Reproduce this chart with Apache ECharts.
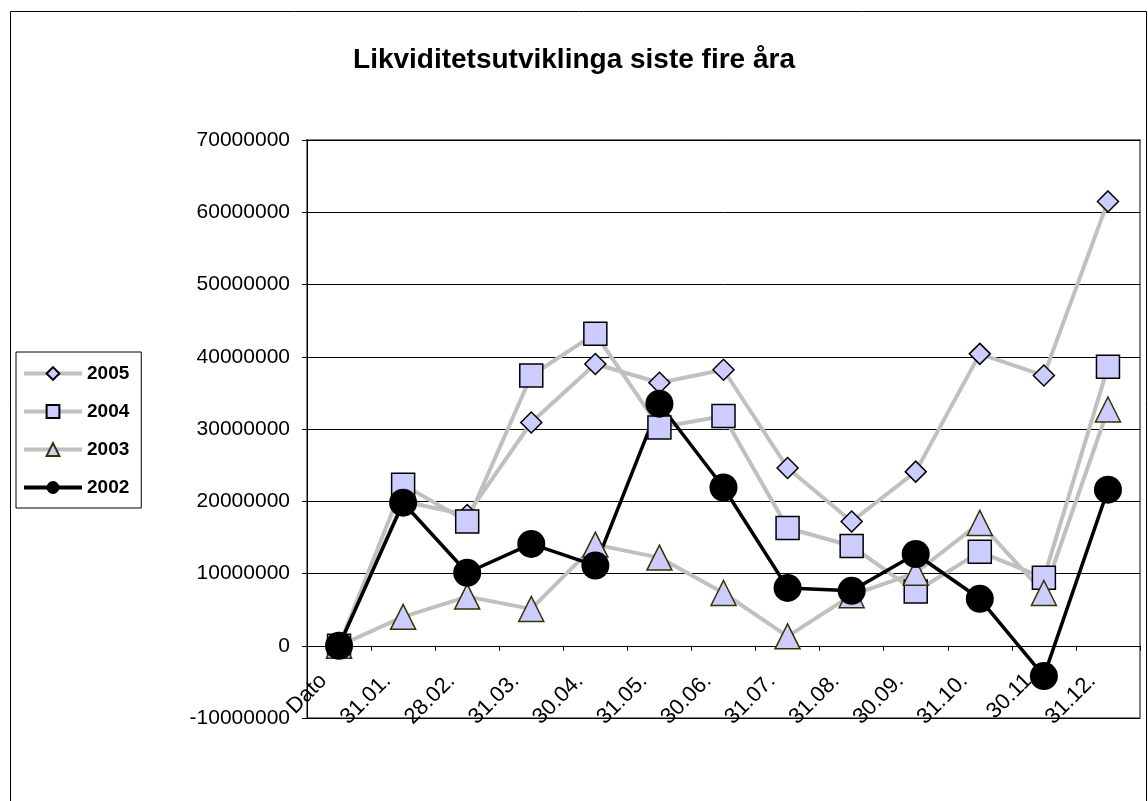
<!DOCTYPE html>
<html>
<head>
<meta charset="utf-8">
<script src="https://cdn.jsdelivr.net/npm/echarts@6/dist/echarts.min.js"></script>
<style>
  html, body { margin: 0; padding: 0; background: #fff; }
  #main { width: 1148px; height: 801px; }
</style>
</head>
<body>
<div id="main"></div>
<script>
// datoar langs x-aksen
var datoar = ['Dato', '31.01.', '28.02.', '31.03.', '30.04.', '31.05.', '30.06.', '31.07.', '31.08.', '30.09.', '31.10.', '30.11', '31.12.'];

// likviditet pr. år (lest av figuren)
var aar2005 = [0, 20000000, 18100000, 30900000, 39000000, 36400000, 38200000, 24600000, 17200000, 24100000, 40400000, 37400000, 61500000];
var aar2004 = [0, 22300000, 17200000, 37400000, 43200000, 30200000, 31800000, 16300000, 13800000, 7500000, 13000000, 9400000, 38600000];
var aar2003 = [0, 4000000, 6800000, 5100000, 14000000, 12200000, 7300000, 1300000, 7000000, 10100000, 17000000, 7300000, 32700000];
var aar2002 = [0, 19800000, 10100000, 14100000, 11100000, 33500000, 21900000, 8000000, 7600000, 12700000, 6500000, -4200000, 21600000];

var yMin = -10000000;
var yMax = 70000000;
var yStep = 10000000;

var chart = echarts.init(document.getElementById('main'), null, { renderer: 'canvas' });

var font = 'Liberation Sans, Arial, sans-serif';

function linje(navn, data, symbol, size, strek, kant) {
  return {
    name: navn,
    type: 'line',
    data: data,
    xAxisIndex: 0,
    symbol: symbol,
    symbolSize: size,
    showSymbol: true,
    showAllSymbol: true,
    lineStyle: { color: strek, width: 4 },
    itemStyle: { color: '#ccccff', borderColor: kant, borderWidth: 1.5 },
    emphasis: { disabled: true }
  };
}

var option = {
  animation: false,
  title: {
    text: 'Likviditetsutviklinga siste fire åra',
    left: 'center',
    top: 41,
    textStyle: { fontFamily: font, fontSize: 28, fontWeight: 'bold', color: '#000' }
  },
  legend: {
    orient: 'vertical',
    left: 16,
    top: 352,
    padding: [12, 12, 11, 6],
    itemWidth: 58,
    itemHeight: 16,
    itemGap: 19,
    borderColor: '#000',
    borderWidth: 1,
    lineStyle: { width: 4 },
    textStyle: { fontFamily: font, fontSize: 19, fontWeight: 'bold', color: '#000' },
    data: ['2005', '2004', '2003', '2002']
  },
  graphic: [{
    type: 'rect',
    shape: { x: 10.5, y: 11.5, width: 1136, height: 800 },
    style: { fill: 'none', stroke: '#000', lineWidth: 1 },
    silent: true
  }],
  grid: {
    left: 307,
    top: 140,
    width: 833,
    height: 578,
    show: true,
    borderColor: '#808080',
    borderWidth: 2,
    backgroundColor: '#fff'
  },
  xAxis: [
    {
      type: 'category',
      data: datoar,
      axisLine: { onZero: true, lineStyle: { color: '#000', width: 1 } },
      axisTick: { show: true, length: 5, lineStyle: { color: '#000' } },
      axisLabel: { show: false },
      splitLine: { show: false }
    },
    {
      type: 'category',
      data: datoar,
      position: 'bottom',
      axisLine: { show: false, onZero: false },
      axisTick: { show: false },
      splitLine: { show: false },
      axisLabel: {
        rotate: 45,
        interval: 0,
        margin: -56,
        padding: [0, 22, 0, 0],
        fontFamily: font,
        fontSize: 22,
        color: '#000'
      }
    }
  ],
  yAxis: {
    type: 'value',
    min: yMin,
    max: yMax,
    interval: yStep,
    axisLine: { show: true, lineStyle: { color: '#000', width: 1 } },
    axisTick: { show: true, length: 5, lineStyle: { color: '#000' } },
    axisLabel: {
      margin: 17,
      fontFamily: font,
      fontSize: 21,
      color: '#000',
      formatter: function (v) { return String(v); }
    },
    splitLine: { show: true, lineStyle: { color: '#000', width: 1 } }
  },
  series: [
    linje('2005', aar2005, 'diamond', 21, '#c0c0c0', '#000'),
    linje('2004', aar2004, 'rect', 23, '#c0c0c0', '#000'),
    linje('2003', aar2003, 'triangle', 25, '#c0c0c0', '#333300'),
    {
      name: '2002',
      type: 'line',
      data: aar2002,
      xAxisIndex: 0,
      symbol: 'circle',
      symbolSize: 28,
      showSymbol: true,
      showAllSymbol: true,
      lineStyle: { color: '#000', width: 3.5 },
      itemStyle: { color: '#000', borderColor: '#000', borderWidth: 0 },
      emphasis: { disabled: true }
    }
  ]
};

chart.setOption(option);
</script>
</body>
</html>
